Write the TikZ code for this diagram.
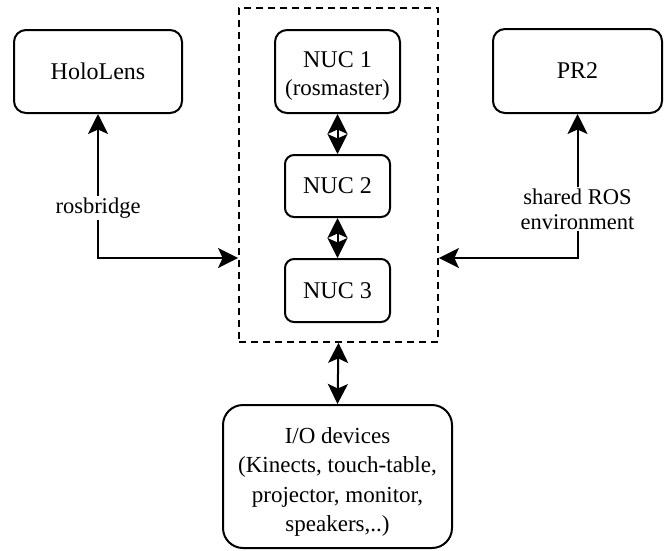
\documentclass[tikz,border=0pt]{standalone}
\usepackage{fontspec}
\setmainfont{Liberation Serif}
\usetikzlibrary{arrows.meta,calc}
\begin{document}
\begin{tikzpicture}[x=1pt,y=-1pt,line width=2pt,
  box/.style={draw,rounded corners=12pt,align=center,inner sep=0pt,font=\fontsize{24}{29}\selectfont},
  headtip/.tip={Stealth[length=20pt,width=20pt,inset=4.5pt]},
  arr/.style={headtip-headtip},
  lbl/.style={fill=white,align=center,inner sep=2pt,font=\fontsize{22.5}{25}\selectfont}]
\useasboundingbox (0,0) rectangle (669,550);
\node[draw,dash pattern=on 7pt off 5pt,line width=1.8pt,minimum width=199pt,minimum height=334pt,inner sep=0pt] (cont) at (338.5,175) {};
\node[box,minimum width=168pt,minimum height=83pt] (holo) at (98,71.5) {HoloLens};
\node[box,minimum width=125pt,minimum height=83pt] (nuc1) at (337.5,71.5) {\rule{0pt}{25pt}NUC 1\\[-1pt]{\fontsize{23}{29}\selectfont(rosmaster)}};
\node[box,rounded corners=9pt,minimum width=105pt,minimum height=62pt] (nuc2) at (337.5,186) {NUC 2};
\node[box,rounded corners=9pt,minimum width=105pt,minimum height=63pt] (nuc3) at (337.5,290.5) {NUC 3};
\node[box,minimum width=169pt,minimum height=84pt] (pr2) at (577.5,71) {PR2};
\node[box,rounded corners=20pt,minimum width=229pt,minimum height=143pt,font=\fontsize{23}{29.5}\selectfont] (io) at (337.5,476.5) {\rule{0pt}{27pt}I/O devices\\(Kinects, touch-table,\\projector, monitor,\\speakers,..)};
\coordinate (cl) at ($(cont.west)+(0,83)$);
\coordinate (cr) at ($(cont.east)+(0,83)$);
\draw[arr] (holo.south) |- (cl);
\draw[arr] (pr2.south) |- (cr);
\node[lbl] (lbl1) at (98,208) {rosbridge};
\node[lbl] (lbl2) at (577.5,209) {shared ROS\\environment};
\draw[arr] (nuc1.south) -- (nuc2.north);
\draw[arr] (nuc2.south) -- (nuc3.north);
\draw[arr] (cont.south) -- (io.north);
\end{tikzpicture}
\end{document}
